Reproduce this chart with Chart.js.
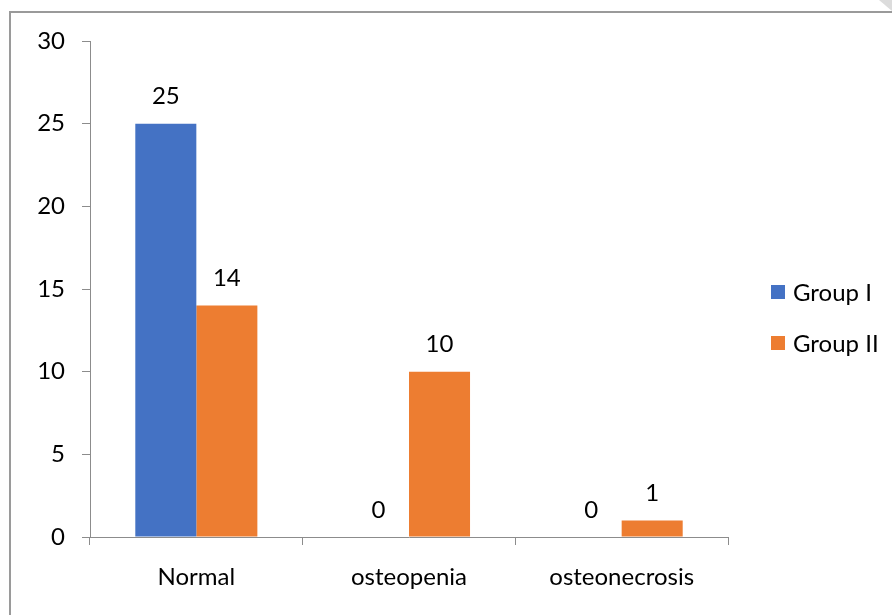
<!DOCTYPE html>
<html><head><meta charset="utf-8">
<script src="https://cdn.jsdelivr.net/npm/chart.js@4/dist/chart.umd.min.js"></script>
<style>html,body{margin:0;padding:0;background:#fff;}#wrap{width:892px;height:615px;position:relative;}</style>
</head><body><div id="wrap"><canvas id="c" width="892" height="615"></canvas></div>
<script>
const categories = ["Normal", "osteopenia", "osteonecrosis"];
const groupI = [25, 0, 0];
const groupII = [14, 10, 1];
const seriesNames = ["Group I", "Group II"];
const seriesColors = ["#4472C4", "#ED7D31"];
const yTicks = [0, 5, 10, 15, 20, 25, 30];

const FONT = "Lato, 'Liberation Sans', sans-serif";
const FS = 24;

const framePlugin = {
  id: 'frame',
  beforeDraw(chart) {
    const ctx = chart.ctx;
    ctx.save();
    ctx.fillStyle = '#fff';
    ctx.fillRect(0, 0, chart.width, chart.height);
    ctx.strokeStyle = '#9a9a9a';
    ctx.lineWidth = 2;
    ctx.beginPath();
    ctx.moveTo(10, 615);
    ctx.lineTo(10, 12);
    ctx.lineTo(892, 12);
    ctx.stroke();
    ctx.fillStyle = '#dcdcdc';
    ctx.beginPath();
    ctx.moveTo(879, 0);
    ctx.lineTo(892, 0);
    ctx.lineTo(892, 11);
    ctx.closePath();
    ctx.fill();
    ctx.restore();
  }
};

const labelPlugin = {
  id: 'vals',
  afterDatasetsDraw(chart) {
    const ctx = chart.ctx;
    ctx.save();
    ctx.font = FS + "px " + FONT;
    ctx.fillStyle = '#000';
    ctx.textAlign = 'center';
    ctx.textBaseline = 'middle';
    chart.data.datasets.forEach((ds, i) => {
      const meta = chart.getDatasetMeta(i);
      meta.data.forEach((bar, j) => {
        ctx.fillText(String(ds.data[j]), bar.x, bar.y - 27);
      });
    });
    // legend
    const lx = 771, ly = [292, 343];
    chart.data.datasets.forEach((ds, i) => {
      ctx.fillStyle = ds.backgroundColor;
      ctx.fillRect(lx, ly[i] - 7, 14, 14);
      ctx.fillStyle = '#000';
      ctx.textAlign = 'left';
      ctx.fillText(ds.label, lx + 22, ly[i] + 1);
    });
    ctx.restore();
  }
};

new Chart(document.getElementById('c'), {
  type: 'bar',
  data: {
    labels: categories,
    datasets: [
      { label: seriesNames[0], data: groupI, backgroundColor: seriesColors[0] },
      { label: seriesNames[1], data: groupII, backgroundColor: seriesColors[1] }
    ]
  },
  options: {
    responsive: false,
    animation: false,
    events: [],
    layout: { padding: { left: 0, right: 164, top: 41, bottom: 0 } },
    datasets: { bar: { categoryPercentage: 0.574, barPercentage: 1.0 } },
    plugins: { legend: { display: false }, tooltip: { enabled: false } },
    scales: {
      x: {
        grid: { display: true, drawOnChartArea: false, offset: true, tickLength: 8, color: '#8c8c8c', lineWidth: 1 },
        border: { color: '#8c8c8c', width: 1 },
        ticks: { color: '#000', font: { size: FS, family: FONT }, padding: 18, maxRotation: 0 },
        afterFit(s) { s.height = 78; }
      },
      y: {
        min: 0, max: 30,
        afterBuildTicks(s) { s.ticks = yTicks.map(v => ({ value: v })); },
        grid: { display: true, drawOnChartArea: false, tickLength: 8, color: '#8c8c8c', lineWidth: 1 },
        border: { color: '#8c8c8c', width: 1 },
        ticks: { color: '#000', font: { size: FS, family: FONT }, padding: 17 },
        afterFit(s) { s.width = 90; }
      }
    }
  },
  plugins: [framePlugin, labelPlugin]
});
</script></body></html>
